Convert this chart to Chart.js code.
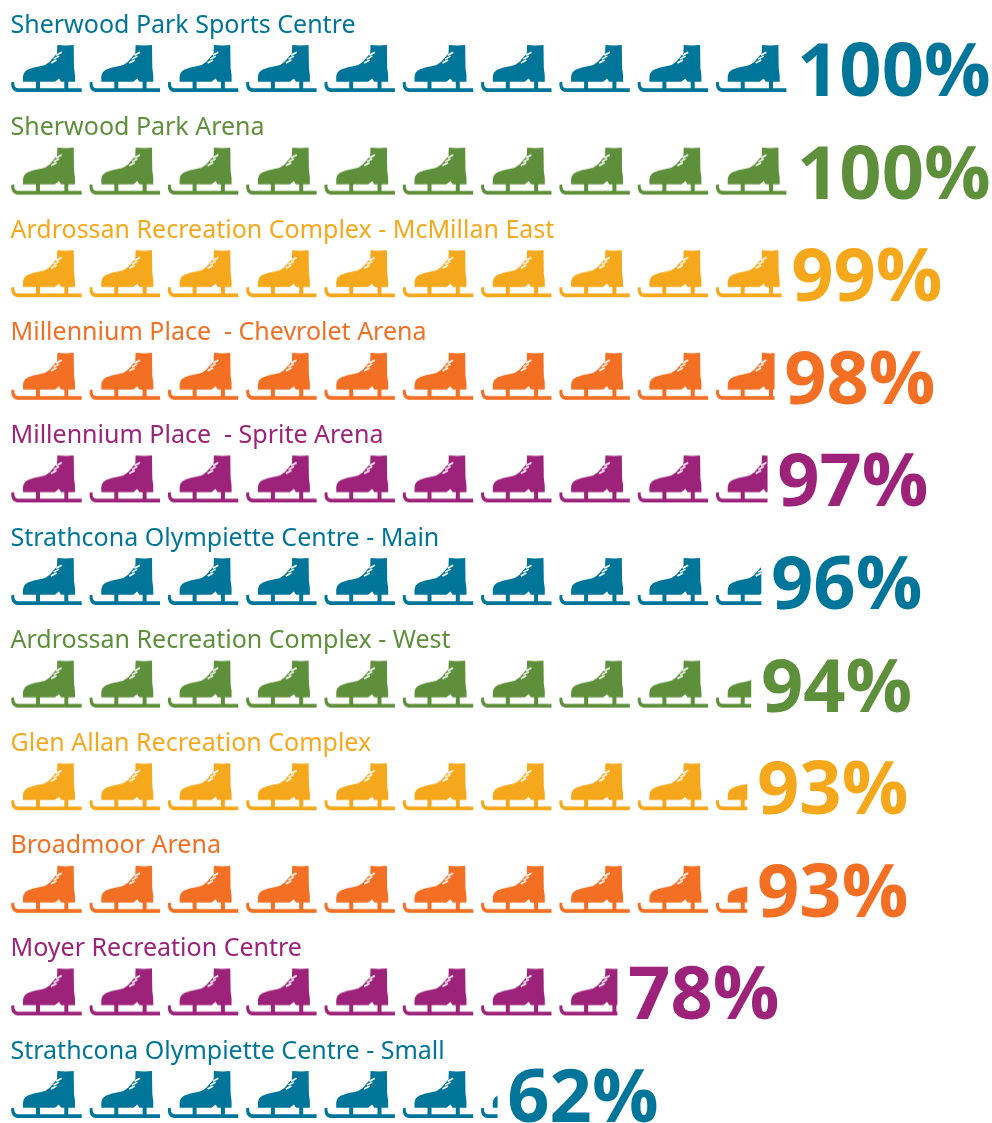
<!DOCTYPE html>
<html>
<head>
<meta charset="utf-8">
<style>
html, body { margin: 0; padding: 0; background: #fff; overflow: hidden; }
canvas { display: block; }
</style>
<script src="https://cdn.jsdelivr.net/npm/chart.js@4"></script>
</head>
<body>
<canvas id="skates" width="992" height="1123"></canvas>
<script>
// Rinks, top to bottom
const arenas = [
    'Sherwood Park Sports Centre',
    'Sherwood Park Arena',
    'Ardrossan Recreation Complex - McMillan East',
    'Millennium Place  - Chevrolet Arena',
    'Millennium Place  - Sprite Arena',
    'Strathcona Olympiette Centre - Main',
    'Ardrossan Recreation Complex - West',
    'Glen Allan Recreation Complex',
    'Broadmoor Arena',
    'Moyer Recreation Centre',
    'Strathcona Olympiette Centre - Small'
];
// how far the row of skates runs
const fillValues = [100, 100, 99, 98.1, 97.2, 96.4, 95.1, 94.6, 94.6, 77.9, 62.5];
// printed numbers
const percentLabels = ['100%', '100%', '99%', '98%', '97%', '96%', '94%', '93%', '93%', '78%', '62%'];
const rowColors = ['#00759a', '#5e8f3b', '#f6a81c', '#f36f24', '#9c2379'];

const skateWidth = 78.3;
const skateBox = 52;

// one skate, origin at top left of the tile
function drawSkate(g, color) {
    g.fillStyle = color;
    g.beginPath();
    g.moveTo(46.3, 2);
    g.quadraticCurveTo(55, 2.8, 62.7, 2);
    g.lineTo(63, 25);
    g.quadraticCurveTo(64.4, 32, 64, 38.7);
    g.lineTo(50, 38.7);
    g.lineTo(48, 35.5);
    g.lineTo(44, 38.7);
    g.lineTo(12, 38.7);
    g.lineTo(12, 33.7);
    g.quadraticCurveTo(12.5, 28.5, 17, 26.5);
    g.quadraticCurveTo(22, 24.2, 30, 23);
    g.quadraticCurveTo(35, 22.2, 38.7, 18.7);
    g.lineTo(46, 10.3);
    g.closePath();
    g.fill();
    // blade and stanchions
    g.fillRect(25, 38, 4, 8);
    g.fillRect(53.3, 38, 4, 8);
    g.beginPath();
    g.moveTo(70.7, 45.3);
    g.lineTo(70.7, 49);
    g.lineTo(6, 49);
    g.quadraticCurveTo(-0.5, 48, 0.3, 39.3);
    g.lineTo(3.2, 38.7);
    g.quadraticCurveTo(2.8, 45.3, 7.5, 45.3);
    g.closePath();
    g.fill();
    // laces
    g.strokeStyle = '#fff';
    g.lineWidth = 1.6;
    for (let i = 0; i < 3; i++) {
        g.beginPath();
        g.moveTo(40 + i * 2.6, 20 - i * 3.9);
        g.lineTo(45.5 + i * 2.6, 17 - i * 3.9);
        g.stroke();
    }
}

// ten skates in one tile so the fractional step stays right
function skatePattern(chart, rowIndex, top) {
    const tile = document.createElement('canvas');
    tile.width = Math.round(skateWidth * 10);
    tile.height = skateBox;
    const g = tile.getContext('2d');
    for (let i = 0; i < 10; i++) {
        g.save();
        g.translate(i * skateWidth, 0);
        drawSkate(g, rowColors[rowIndex % rowColors.length]);
        g.restore();
    }
    const pattern = chart.ctx.createPattern(tile, 'repeat');
    pattern.setTransform(new DOMMatrix().translate(chart.chartArea.left, top));
    return pattern;
}

// arena name above the bar, percentage after it
const rowText = {
    id: 'rowText',
    afterDatasetsDraw(chart) {
        const g = chart.ctx;
        const bars = chart.getDatasetMeta(0).data;
        g.save();
        g.textBaseline = 'alphabetic';
        bars.forEach((bar, i) => {
            g.fillStyle = rowColors[i % rowColors.length];
            g.font = '400 25px "Noto Sans"';
            g.fillText(arenas[i], chart.chartArea.left - 0.5, bar.y - 36.5);
            g.font = '700 74px "Open Sans"';
            // ink starts a fixed gap after the bar, whatever the first digit's side bearing
            const ink = g.measureText(percentLabels[i]).actualBoundingBoxLeft;
            g.fillText(percentLabels[i], bar.x + 12 + ink, bar.y + 27);
        });
        g.restore();
    }
};

new Chart(document.getElementById('skates').getContext('2d'), {
    type: 'bar',
    data: {
        labels: arenas,
        datasets: [{
            data: fillValues,
            barThickness: skateBox,
            clip: false,
            backgroundColor(ctx) {
                const chart = ctx.chart;
                if (!chart.chartArea) return rowColors[0];
                const y = chart.scales.y.getPixelForValue(ctx.dataIndex);
                return skatePattern(chart, ctx.dataIndex, y - skateBox / 2);
            }
        }]
    },
    options: {
        indexAxis: 'y',
        responsive: false,
        animation: false,
        layout: { padding: { left: 11, top: 69, bottom: 28, right: 0 } },
        plugins: { legend: { display: false }, tooltip: { enabled: false } },
        scales: {
            x: { display: false, min: 0, max: 126.09 },
            y: { display: false, offset: false }
        }
    },
    plugins: [rowText]
});
</script>
</body>
</html>
